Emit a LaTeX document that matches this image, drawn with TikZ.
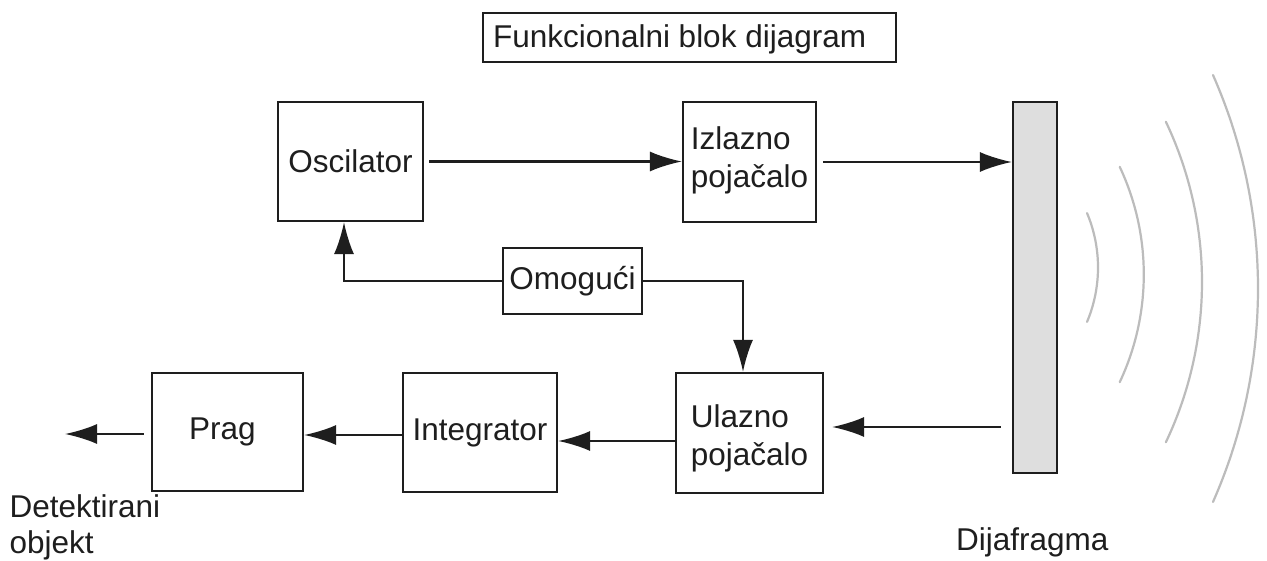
\documentclass[tikz,border=0pt]{standalone}
\usepackage{fontspec}
\setmainfont{Liberation Sans}
\usetikzlibrary{arrows.meta}
\definecolor{ink}{RGB}{30,30,30}
\definecolor{wavec}{RGB}{188,188,188}
\definecolor{plate}{RGB}{222,222,222}
\begin{document}
\begin{tikzpicture}[x=1pt,y=-1pt,
  blk/.style={draw=ink, line width=2.2pt, rectangle, inner sep=0pt, fill=white},
  txt/.style={inner sep=0pt, text=ink, font=\fontsize{31.5}{38}\selectfont},
  arr/.style={draw=ink, line width=2.2pt, -{Latex[length=32pt,width=20pt]}},
  wave/.style={draw=wavec, line width=2.2pt, line cap=round}]
\useasboundingbox[fill=white] (0,0) rectangle (1267,561);

% title
\node[blk, minimum width=413pt, minimum height=49pt] (titlebox) at (689.5,37.5) {};
\node[txt, anchor=base west] (titletext) at (493,48) {Funkcionalni blok dijagram};

% blocks
\node[blk, minimum width=145pt, minimum height=119pt] (osc) at (350.5,161.5) {};
\node[txt] (osct) at (osc.center) {Oscilator};
\node[blk, minimum width=133pt, minimum height=120pt] (izl) at (749.5,162) {};
\node[txt, align=left] (izlt) at ([yshift=2pt]izl.center) {Izlazno\\pojačalo};
\node[blk, minimum width=139pt, minimum height=66pt] (omo) at (572.5,281) {};
\node[txt] (omot) at (omo.center) {Omogući};
\node[blk, minimum width=147pt, minimum height=120pt] (ula) at (749.5,433) {};
\node[txt, align=left] (ulat) at ([yshift=-5pt]ula.center) {Ulazno\\pojačalo};
\node[blk, minimum width=154pt, minimum height=119pt] (int) at (480,432.5) {};
\node[txt] (intt) at (int.center) {Integrator};
\node[blk, minimum width=151pt, minimum height=118pt] (prag) at (227.5,432) {};
\node[txt] (pragt) at ([xshift=-5pt]prag.center) {Prag};
\node[blk, fill=plate, minimum width=44pt, minimum height=371pt] (dia) at (1035,287.5) {};

% labels
\node[txt, anchor=base west] (det) at (9.5,517) {Detektirani};
\node[txt, anchor=base west] (obj) at (9.5,553) {objekt};
\node[txt, anchor=base west] (dij) at (956,550) {Dijafragma};

% helper coordinates
\coordinate (yin) at (0,427);
\coordinate (y2) at (0,441);
\coordinate (y3) at (0,435);
\coordinate (out) at (65,434);
\coordinate (c1) at (344,281);
\coordinate (c2) at (743,281);

% connectors
\draw[arr, shorten <=5pt] (osc.east) -- (osc.east -| izl.west);
\draw[arr, shorten <=6pt] (izl.east) -- (izl.east -| dia.west);
\draw[arr, shorten <=11pt, shorten >=8pt] (dia.west |- yin) -- (ula.east |- yin);
\draw[arr] (ula.west |- y2) -- (int.east |- y2);
\draw[arr] (int.west |- y3) -- (prag.east |- y3);
\draw[arr, shorten <=7pt] (prag.west |- out) -- (out);
\draw[arr] (omo.west) -- (c1) -- (c1 |- osc.south);
\draw[arr] (omo.east) -- (c2) -- (c2 |- ula.north);

% sound waves
\draw[wave] plot[domain=-22.8:22.8, samples=40] ({957.5+140.5*cos(\x)},{267.5+140.5*sin(\x)});
\draw[wave] plot[domain=-25.2:25.2, samples=50] ({891+252.8*cos(\x)},{274.5+252.8*sin(\x)});
\draw[wave] plot[domain=-25.4:25.4, samples=60] ({828.4+373.6*cos(\x)},{282+373.6*sin(\x)});
\draw[wave] plot[domain=-23.8:23.8, samples=70] ({729+529*cos(\x)},{288.5+529*sin(\x)});
\end{tikzpicture}
\end{document}
